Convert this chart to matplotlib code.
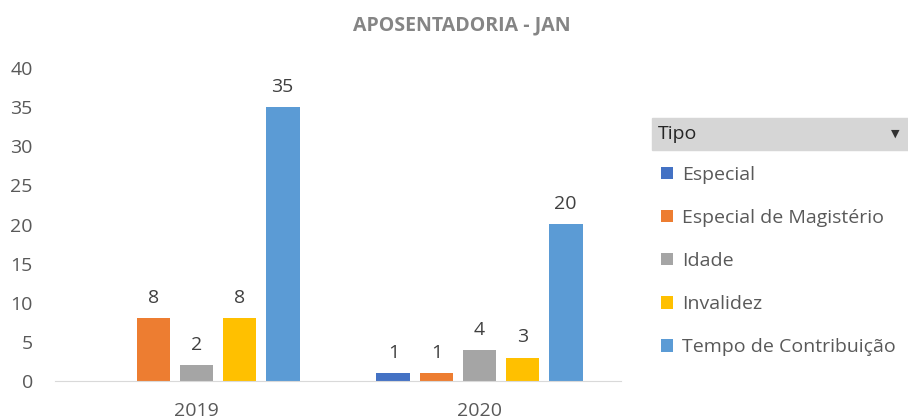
import numpy as np
import matplotlib.pyplot as plt
from matplotlib.patches import Rectangle

# dados
anos = ['2019', '2020']
tipos = ['Especial', 'Especial de Magistério', 'Idade', 'Invalidez', 'Tempo de Contribuição']
especial = [0, 1]
magisterio = [8, 1]
idade = [2, 4]
invalidez = [8, 3]
tempo = [35, 20]
cores = ['#4472C4', '#ED7D31', '#A5A5A5', '#FFC000', '#5B9BD5']

series = [especial, magisterio, idade, invalidez, tempo]

plt.rcParams['font.family'] = ['Open Sans', 'DejaVu Sans']

fig = plt.figure(figsize=(9.08, 4.19), dpi=100)
ax = fig.add_axes([55 / 908, 38 / 419, 566 / 908, 313 / 419])

x = np.arange(len(anos))
passo = 0.152
largura = 0.12
handles = []
for i, (vals, cor, nome) in enumerate(zip(series, cores, tipos)):
    pos = x + (i - 2) * passo
    barras = ax.bar(pos, vals, width=largura, color=cor, label=nome)
    handles.append(barras)
    rotulos = ['' if v == 0 else str(v) for v in vals]
    ax.bar_label(barras, labels=rotulos, padding=8, fontsize=14, color='#404040')

ax.set_xlim(-0.5, 1.5)
ax.set_ylim(0, 40)
ax.set_yticks(range(0, 41, 5))
ax.set_xticks(x)
ax.set_xticklabels(anos)
ax.tick_params(length=0, labelsize=14, colors='#595959')
ax.tick_params(axis='y', pad=16)
ax.tick_params(axis='x', pad=15)
for s in ['top', 'right', 'left']:
    ax.spines[s].set_visible(False)
ax.spines['bottom'].set_color('#D9D9D9')

fig.text(0.509, 1 - 25 / 419, 'APOSENTADORIA - JAN', ha='center', va='center',
         fontsize=14, fontweight='bold', color='#858585')

# cabeçalho da legenda
fig.patches.append(Rectangle((652 / 908, 1 - 150 / 419), 256 / 908, 32 / 419,
                             transform=fig.transFigure, color='#D6D6D6', zorder=0))
fig.text(658 / 908, 1 - 134 / 419, 'Tipo', ha='left', va='center', fontsize=14, color='#262626')
fig.text(895 / 908, 1 - 134 / 419, '▼', ha='center', va='center', fontsize=8, color='#333333',
         family='DejaVu Sans')

fig.legend(handles=handles, labels=tipos, loc='upper left',
           bbox_to_anchor=(661 / 908, 1 - 166 / 419), frameon=False,
           handlelength=0.6, handleheight=0.6, handletextpad=0.5, borderpad=0,
           labelspacing=1.29, fontsize=14, labelcolor='#595959', borderaxespad=0)

fig.savefig('out.png', dpi=100)
